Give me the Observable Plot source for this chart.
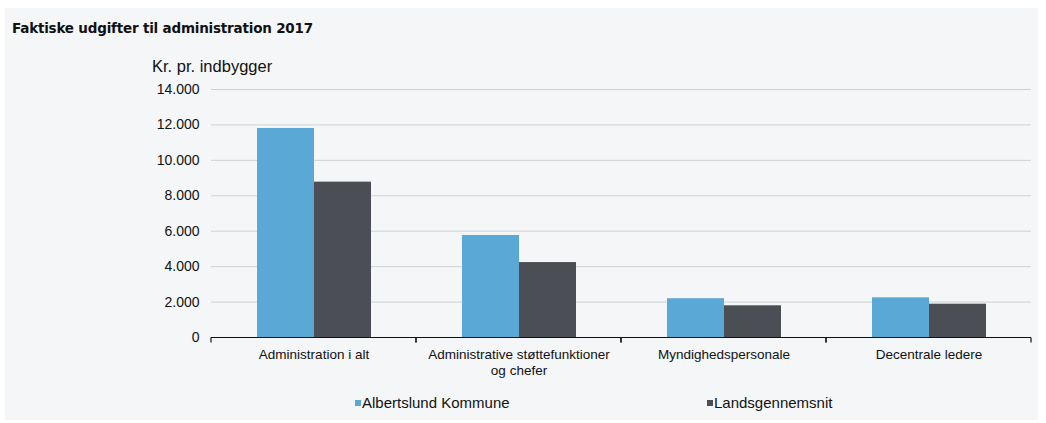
<!DOCTYPE html>
<html>
<head>
<meta charset="utf-8">
<script src="https://cdn.jsdelivr.net/npm/d3@7"></script>
<script src="https://cdn.jsdelivr.net/npm/@observablehq/plot@0.6"></script>
<style>
  html, body { margin: 0; padding: 0; background: #ffffff; width: 1046px; height: 423px; overflow: hidden; }
  #panel { position: absolute; left: 5px; top: 8px; width: 1033px; height: 412px; background: #f4f6f7; }
  #title { position: absolute; left: 12px; top: 20px; font: bold 13.5px "DejaVu Sans", "Liberation Sans", sans-serif; color: #111; letter-spacing: -0.2px; }
  #ylabel { position: absolute; left: 152px; top: 57px; font: 16.5px "Liberation Sans", Arial, sans-serif; color: #111; }
  #chart { position: absolute; left: 0; top: 75px; }
  #legend { position: absolute; top: 394px; left: 0; width: 1046px; height: 18px; font: 15px "Liberation Sans", Arial, sans-serif; color: #111; }
  .item { position: absolute; top: 0; display: flex; align-items: center; }
  .sw { width: 6px; height: 6px; margin-right: 1px; display: inline-block; }
</style>
</head>
<body>
<div id="panel"></div>
<div id="title">Faktiske udgifter til administration 2017</div>
<div id="ylabel">Kr. pr. indbygger</div>
<div id="chart"></div>
<div id="legend"></div>
<script>
const categories = [
  "Administration i alt",
  "Administrative støttefunktioner\nog chefer",
  "Myndighedspersonale",
  "Decentrale ledere"
];
const series = ["Albertslund Kommune", "Landsgennemsnit"];
const albertslund = [11800, 5760, 2190, 2240];
const landsgennemsnit = [8770, 4230, 1790, 1880];
const yTicks = [0, 2000, 4000, 6000, 8000, 10000, 12000, 14000];
const colors = ["#5aa8d6", "#4b4e54"];

const rows = categories.flatMap((c, i) => [
  {cat: c, series: series[0], value: albertslund[i]},
  {cat: c, series: series[1], value: landsgennemsnit[i]}
]);

const fmt = d3.formatLocale({decimal: ",", thousands: ".", grouping: [3], currency: ["", ""]}).format(",");

const chart = Plot.plot({
  width: 1046,
  height: 310,
  marginLeft: 210,
  marginRight: 14,
  marginTop: 14,
  marginBottom: 48,
  style: {background: "transparent", fontFamily: '"Liberation Sans", Arial, sans-serif', color: "#111", overflow: "visible"},
  fx: {domain: categories, padding: 0, label: null},
  x: {domain: series, paddingInner: 0, paddingOuter: 0.78, axis: null},
  y: {domain: [0, 14000], label: null},
  color: {domain: series, range: colors},
  marks: [
    Plot.gridY(yTicks.filter(d => d > 0), {stroke: "#cdd2d4", strokeOpacity: 1, strokeWidth: 1}),
    Plot.axisY(yTicks, {tickSize: 0, tickPadding: 12, fontSize: 14, tickFormat: fmt, label: null}),
    Plot.barY(rows, {fx: "cat", x: "series", y: "value", fill: "series"}),
    Plot.ruleY([0], {
      stroke: "#111",
      strokeWidth: 1.2,
      render(index, scales, values, dimensions, context, next) {
        const g = next(index, scales, values, dimensions, context);
        const line = g.querySelector("line");
        if (line) {
          const y = +line.getAttribute("y1");
          for (const a of ["x1", "x2"]) {
            const x = +line.getAttribute(a);
            const t = document.createElementNS("http://www.w3.org/2000/svg", "line");
            t.setAttribute("x1", x); t.setAttribute("x2", x);
            t.setAttribute("y1", y); t.setAttribute("y2", y + 5);
            line.parentNode.appendChild(t);
          }
        }
        return g;
      }
    }),
    Plot.axisFx({anchor: "bottom", tickSize: 0, tickPadding: 10, fontSize: 13.5, lineHeight: 1.2, label: null})
  ]
});
document.getElementById("chart").appendChild(chart);

const legend = document.getElementById("legend");
const lefts = [355, 707];
series.forEach((s, i) => {
  const it = document.createElement("div");
  it.className = "item";
  it.style.left = lefts[i] + "px";
  it.innerHTML = `<span class="sw" style="background:${colors[i]}"></span><span>${s}</span>`;
  legend.appendChild(it);
});
</script>
</body>
</html>
